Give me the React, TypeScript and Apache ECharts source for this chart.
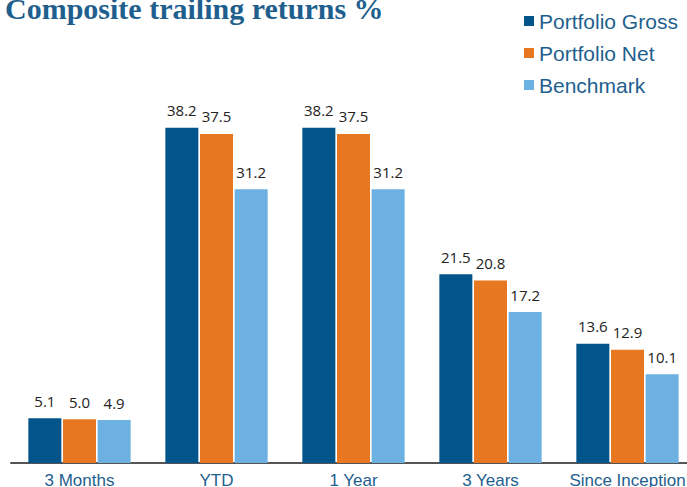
import React, { useEffect, useRef } from "react";
import * as echarts from "echarts";

const categories = ["3 Months", "YTD", "1 Year", "3 Years", "Since Inception"];
const portfolioGross = [5.1, 38.2, 38.2, 21.5, 13.6];
const portfolioNet = [5.0, 37.5, 37.5, 20.8, 12.9];
const benchmark = [4.9, 31.2, 31.2, 17.2, 10.1];
const seriesNames = ["Portfolio Gross", "Portfolio Net", "Benchmark"];
const colors = ["#02558A", "#E87722", "#6CB1E1"];

export default function App() {
  const ref = useRef<HTMLDivElement>(null);
  useEffect(() => {
    if (!ref.current) return;
    const chart = echarts.init(ref.current, undefined, { renderer: "svg" });
    const data = [portfolioGross, portfolioNet, benchmark];
    chart.setOption({
      animation: false,
      graphic: [
        {
          type: "text",
          left: 5,
          top: -7,
          style: {
            text: "Composite trailing returns %",
            font: "bold 30px 'Liberation Serif', 'Times New Roman', serif",
            fill: "#1F5F8E",
          },
        },
      ],
      legend: {
        orient: "vertical",
        left: 519,
        top: 5,
        icon: "rect",
        itemWidth: 10,
        itemHeight: 10,
        itemGap: 10,
        textStyle: {
          fontFamily: "'Liberation Sans', Arial, sans-serif",
          fontSize: 21,
          color: "#1F5F8E",
          lineHeight: 22,
        },
        data: seriesNames,
      },
      grid: {
        left: 11,
        width: 685,
        top: 112,
        bottom: 24,
        containLabel: false,
        outerBoundsMode: "none",
      },
      xAxis: {
        type: "category",
        data: categories,
        axisLine: { lineStyle: { color: "#555555", width: 2 } },
        axisTick: { show: false },
        axisLabel: {
          color: "#1F5F8E",
          fontFamily: "'Liberation Sans', Arial, sans-serif",
          fontSize: 17,
          lineHeight: 14,
          margin: 10,
          interval: 0,
        },
      },
      yAxis: { type: "value", min: 0, max: 40, show: false, splitLine: { show: false } },
      series: seriesNames.map((name, i) => ({
        name,
        type: "bar",
        data: data[i],
        barWidth: 33,
        barGap: "5%",
        itemStyle: { color: colors[i] },
        label: {
          show: true,
          position: "top",
          distance: 10,
          color: "#222222",
          fontFamily: "'Open Sans', 'Noto Sans', sans-serif",
          fontSize: 15,
          formatter: (p: any) => Number(p.value).toFixed(1),
        },
      })),
    });
    return () => chart.dispose();
  }, []);
  return <div ref={ref} style={{ width: 687, height: 487, position: "absolute", left: 0, top: 0 }} />;
}
